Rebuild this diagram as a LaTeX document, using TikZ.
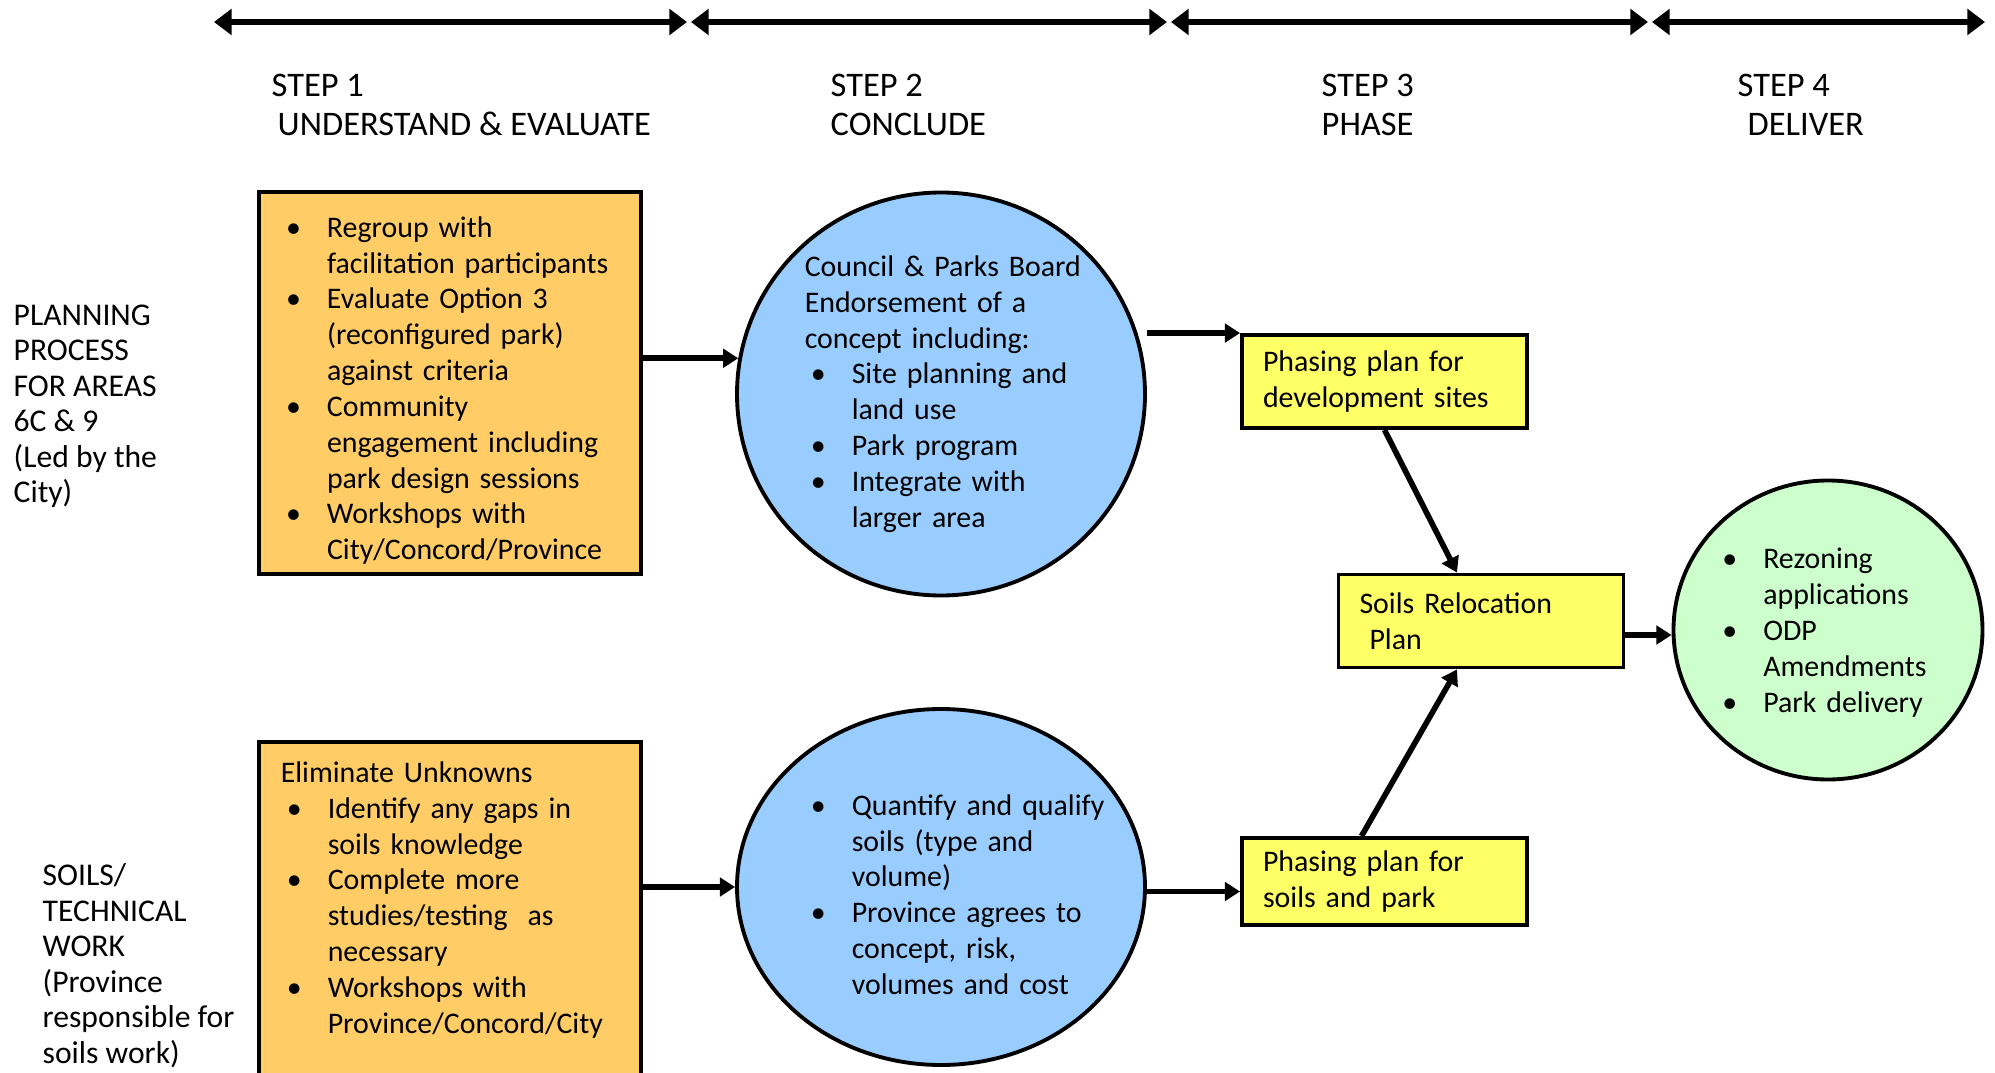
\documentclass[tikz,border=0pt]{standalone}
\usepackage{fontspec}
\setmainfont{Carlito}
\usepackage{tikz}
\usetikzlibrary{positioning,arrows.meta,shapes.geometric}

\definecolor{stageorange}{HTML}{FFCC66}
\definecolor{conclblue}{HTML}{99CCFF}
\definecolor{phaseyellow}{HTML}{FFFF66}
\definecolor{delivgreen}{HTML}{CCFFCC}
\setlength{\parindent}{0pt}
% bullet line with hanging indent
\newcommand{\bpt}[1]{\par\hangindent=4.7mm\hangafter=1\noindent
  \makebox[4.7mm][l]{\hspace{0.6mm}\textbullet}{\let\\\newline #1}\par}

\begin{document}
\begin{tikzpicture}[x=0.1mm, y=-0.1mm,
  stagebox/.style={draw, line width=1.1pt, fill=stageorange,
                   minimum width=38.2mm, inner sep=0pt},
  concl/.style={draw, ellipse, line width=1.1pt, fill=conclblue, inner sep=0pt},
  phbox/.style={draw, line width=1.1pt, fill=phaseyellow, minimum width=28.5mm,
                minimum height=9.3mm, inner sep=0pt, text width=24.3mm,
                align=left, font=\fontsize{8.5}{10.2}\selectfont},
  deliv/.style={draw, ellipse, line width=1.1pt, fill=delivgreen, inner sep=0pt},
  txt/.style={inner sep=0pt, align=left, font=\fontsize{8.5}{10.2}\selectfont},
  rowlbl/.style={inner sep=0pt, align=left, anchor=north west,
                 font=\fontsize{9}{10.1}\selectfont},
  steplbl/.style={inner sep=0pt, align=left, anchor=north west,
                  font=\fontsize{9.8}{11.2}\selectfont},
  ar/.style={-{Triangle[length=4.3pt,width=5.2pt]}, line width=1.6pt},
  stepbar/.style={{Triangle[length=5pt,width=7.2pt]}-{Triangle[length=5pt,width=7.2pt]},
                  line width=1.8pt, shorten <=0.2mm, shorten >=0.2mm},
]
  \useasboundingbox (0,0) rectangle (1995,1073);

  %% timeline across the top
  \coordinate (t0) at (212,22);
  \coordinate (t1) at (689,22);
  \coordinate (t2) at (1169,22);
  \coordinate (t3) at (1650,22);
  \coordinate (t4) at (1987,22);
  \foreach \a/\b in {t0/t1, t1/t2, t2/t3, t3/t4}
    \draw[stepbar] (\a) -- (\b);

  \node[steplbl] (s1) at (271,73) {STEP 1\\\hspace*{0.6mm}UNDERSTAND \& EVALUATE};
  \node[steplbl] (s2) at (830,73) {STEP 2\\CONCLUDE};
  \node[steplbl] (s3) at (1321,73) {STEP 3\\PHASE};
  \node[steplbl] (s4) at (1737,73) {STEP 4\\\hspace*{1mm}DELIVER};

  %% row labels
  \node[rowlbl] (lab1) at (13,304)
    {PLANNING\\PROCESS\\FOR AREAS\\6C \& 9\\(Led by the\\City)};
  \node[rowlbl] (lab2) at (42,863)
    {SOILS/\\TECHNICAL\\WORK\\(Province\\responsible for\\soils work)};

  %% step 1
  \node[stagebox, minimum height=38.2mm, text width=34mm, align=left,
        font=\fontsize{8.5}{10.2}\selectfont] (plan1) at (450,383)
    {\bpt{Regroup with\\facilitation participants}
     \bpt{Evaluate Option 3\\(reconfigured park)\\against criteria}
     \bpt{Community\\engagement including\\park design sessions}
     \bpt{Workshops with\\City/Concord/Province}};

  \node[stagebox, minimum height=36mm, anchor=north] (plan2) at (450,740) {};
  \node[txt, text width=34mm, anchor=north west] (plan2txt)
    at ([xshift=2.3mm, yshift=-2.1mm]plan2.north west)
    {Eliminate Unknowns
     \bpt{Identify any gaps in\\soils knowledge}
     \bpt{Complete more\\studies/testing \ as\\necessary}
     \bpt{Workshops with\\Province/Concord/City}};

  %% step 2
  \node[concl, minimum width=40.8mm, minimum height=40.3mm] (cc1) at (941,394) {};
  \node[txt, text width=29mm, anchor=west] (cc1txt) at ([xshift=6.9mm]cc1.west)
    {Council \& Parks Board\\Endorsement of a\\concept including:
     \bpt{Site planning and\\land use}
     \bpt{Park program}
     \bpt{Integrate with\\larger area}};

  \node[concl, minimum width=40.8mm, minimum height=35.6mm] (cc2) at (941,887) {};
  \node[txt, text width=31mm, anchor=west] (cc2txt) at ([xshift=6.9mm]cc2.west)
    {\bpt{Quantify and qualify\\soils (type and\\volume)}
     \bpt{Province agrees to\\concept, risk,\\volumes and cost}};

  %% step 3
  \node[phbox] (ph1) at (1384.5,381.5) {Phasing plan for\\development sites};
  \node[phbox] (rel) at (1481,621) {Soils Relocation\\\hspace*{1mm}Plan};
  \node[phbox, minimum height=8.7mm] (ph2) at (1384.5,881.5)
    {Phasing plan for\\soils and park};

  %% step 4
  \node[deliv, minimum width=30.9mm, minimum height=29.9mm] (dlv) at (1828,630) {};
  \node[txt, text width=24mm, anchor=west] (dlvtxt)
    at ([xshift=4.4mm, yshift=0.5mm]dlv.west)
    {\bpt{Rezoning\\applications}
     \bpt{ODP\\Amendments}
     \bpt{Park delivery}};

  %% connectors
  \coordinate (ph2in) at ([yshift=-1mm]ph2.west);
  \coordinate (relout) at ([yshift=-1.4mm]rel.east);
  \draw[ar] (plan1.east |- cc1.170) -- (cc1.170);
  \draw[ar] (plan2.east |- cc2.west) -- (cc2.west);
  \draw[ar] (cc1.east |- ph1.north west) -- (ph1.north west);
  \draw[ar] (cc2.east |- ph2in) -- (ph2in);
  \draw[ar] (ph1.south) -- ([xshift=-2.4mm]rel.north);
  \draw[ar] ([xshift=-2.3mm]ph2.north) -- ([xshift=-2.4mm]rel.south);
  \draw[ar] (relout) -- (relout -| dlv.west);
\end{tikzpicture}
\end{document}
